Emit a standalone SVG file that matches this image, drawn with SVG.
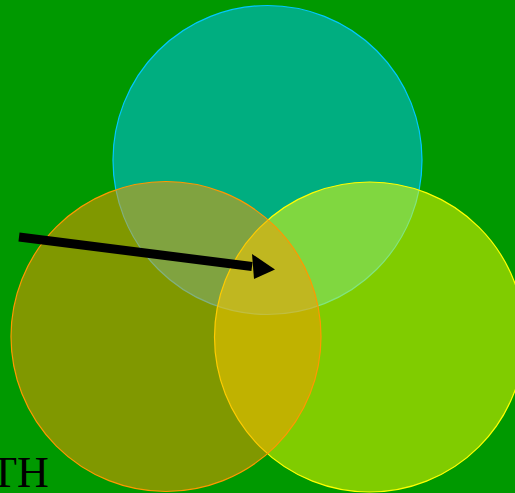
<svg xmlns="http://www.w3.org/2000/svg" width="515" height="493" viewBox="0 0 515 493">
<style>
.c{fill-opacity:0.5;stroke-width:1.2}
.lbl{font-family:"Liberation Serif","Times New Roman",serif;font-size:44px;fill:#000}
</style>
<rect width="515" height="493" fill="#009900"/>
<g id="circle-top"><circle class="c" cx="267.5" cy="160" r="154.5" fill="#00c3ff" stroke="#00c8ff"/></g>
<g id="circle-right"><circle class="c" cx="369.5" cy="337" r="155" fill="#ffff00" stroke="#ffff00"/></g>
<g id="circle-left"><circle class="c" cx="166" cy="336.5" r="155" fill="#ff9800" stroke="#ff9800"/></g>
<g id="label"><text class="lbl" x="-10" y="487">TH</text></g>
<g id="connectors">
<line x1="19" y1="237" x2="252" y2="266.5" stroke="#000" stroke-width="9"/>
<polygon points="252,254 275,269.5 254,279" fill="#000"/>
</g>
</svg>
